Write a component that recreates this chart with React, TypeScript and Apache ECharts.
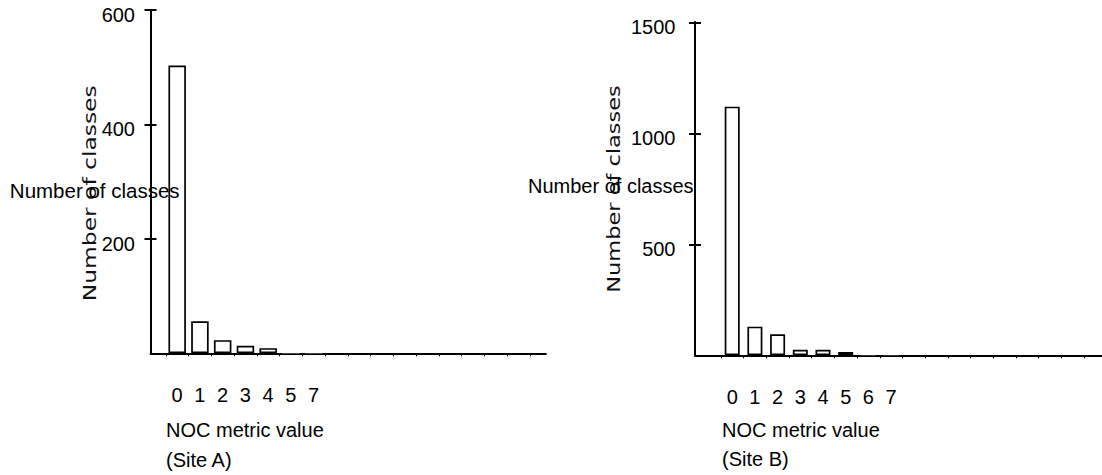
import React, { useEffect, useRef } from "react";
import * as echarts from "echarts";

// ---- data ----
const SITE_A_CATEGORIES = ["0", "1", "2", "3", "4", "5", "7", "", "", "", "", "", "", "", "", ""];
const SITE_A_COUNTS = [503, 56, 23, 13, 9, 1, 1, 0, 0, 0, 0, 0, 0, 0, 0, 0];
const SITE_A_Y_MAX = 600;
const SITE_A_Y_STEP = 200;

const SITE_B_CATEGORIES = ["0", "1", "2", "3", "4", "5", "6", "7", "", "", "", "", "", "", "", ""];
const SITE_B_COUNTS = [1120, 129, 95, 25, 25, 15, 1, 1, 0, 0, 0, 0, 0, 0, 0, 0];
const SITE_B_Y_MAX = 1500;
const SITE_B_Y_STEP = 500;

const Y_NAME = "Number of classes";
const X_NAME = "NOC metric value";
const SITE_A_LABEL = "(Site A)";
const SITE_B_LABEL = "(Site B)";

const SANS = "'Liberation Sans', Arial, Helvetica, sans-serif";
const INK = "#000";

function frameY(gridIndex: number, max: number, step: number, margin: number) {
  return [
    {
      gridIndex,
      type: "value",
      position: "left",
      min: 0,
      max,
      interval: step,
      axisLine: { show: true, lineStyle: { color: INK, width: 2 } },
      axisTick: { show: true, inside: false, length: 6, lineStyle: { color: INK, width: 2 } },
      axisLabel: {
        show: true,
        showMinLabel: false,
        formatter: (v: number) => (v === 0 ? "" : String(v)),
        color: INK,
        fontSize: 20,
        fontFamily: SANS,
        margin,
        verticalAlign: "top",
        lineHeight: 10,
      },
      splitLine: { show: false },
    },
    {
      gridIndex,
      type: "value",
      position: "left",
      offset: 0,
      min: 0,
      max,
      interval: step,
      axisLine: { show: true, lineStyle: { color: INK, width: 2 } },
      axisTick: { show: true, inside: true, length: 6, lineStyle: { color: INK, width: 2 } },
      axisLabel: { show: false },
      splitLine: { show: false },
    },
    {
      gridIndex: gridIndex + 1,
      type: "value",
      min: 0,
      max,
      interval: step,
      show: false,
    },
  ];
}

function frameX(gridIndex: number) {
  return {
    gridIndex,
    type: "value",
    min: 0,
    max: 1,
    axisLine: { show: true, lineStyle: { color: INK, width: 1.8 } },
    axisTick: { show: false },
    axisLabel: { show: false },
    splitLine: { show: false },
  };
}

function catX(gridIndex: number, data: string[]) {
  return {
    gridIndex,
    type: "category",
    data,
    boundaryGap: true,
    axisLine: { show: false },
    axisTick: { show: true, interval: 0, length: 3, lineStyle: { color: INK, width: 1 } },
    axisLabel: { interval: 0, color: INK, fontSize: 20, fontFamily: SANS, margin: 32 },
    splitLine: { show: false },
  };
}

// bars too short to show an outline are drawn without one
function barData(values: number[]) {
  return values.map((v) => (v < 2 ? { value: v, itemStyle: { borderWidth: 0 } } : v));
}

function txt(x: number, y: number, text: string, extra: any = {}, style: any = {}) {
  return {
    type: "text",
    x,
    y,
    z: 100,
    ...extra,
    style: {
      text,
      fontFamily: SANS,
      fontSize: 20,
      fill: INK,
      align: "left",
      verticalAlign: "middle",
      ...style,
    },
  };
}

export default function App() {
  const ref = useRef<HTMLDivElement>(null);

  useEffect(() => {
    if (!ref.current) return;
    const chart = echarts.init(ref.current, undefined, { renderer: "svg" });
    const rotatedStyle = {
      fontFamily: "'DejaVu Sans', sans-serif",
      fontSize: 18,
      fill: "#111",
      align: "center",
    };
    const option = {
      animation: false,
      backgroundColor: "#fff",
      grid: [
        { left: 150.5, top: 10, width: 395.5, height: 343.3 },
        { left: 165.8, top: 10, width: 364, height: 343.3 },
        { left: 695, top: 22.3, width: 407, height: 333 },
        { left: 720.85, top: 22.3, width: 363.2, height: 333 },
      ],
      xAxis: [frameX(0), catX(1, SITE_A_CATEGORIES), frameX(2), catX(3, SITE_B_CATEGORIES)],
      yAxis: [
        ...frameY(0, SITE_A_Y_MAX, SITE_A_Y_STEP, 15.5),
        ...frameY(2, SITE_B_Y_MAX, SITE_B_Y_STEP, 19.5),
      ],
      series: [
        {
          type: "bar",
          xAxisIndex: 1,
          yAxisIndex: 2,
          data: barData(SITE_A_COUNTS),
          barWidth: 17.5,
          silent: true,
          itemStyle: { color: "#fff", borderColor: INK, borderWidth: 1.7 },
        },
        {
          type: "bar",
          xAxisIndex: 3,
          yAxisIndex: 5,
          data: barData(SITE_B_COUNTS),
          barWidth: 15,
          silent: true,
          itemStyle: { color: "#fff", borderColor: INK, borderWidth: 1.7 },
        },
      ],
      graphic: [
        txt(89.7, 193.3, Y_NAME, { rotation: Math.PI / 2, scaleX: 1.3 }, rotatedStyle),
        txt(94.7, 190, Y_NAME, {}, { align: "center", fontSize: 20.5 }),
        txt(614, 189, Y_NAME, { rotation: Math.PI / 2, scaleX: 1.25 }, rotatedStyle),
        txt(610.8, 186, Y_NAME, {}, { align: "center" }),
        txt(166, 429.5, X_NAME),
        txt(166, 459.5, SITE_A_LABEL),
        txt(722, 430, X_NAME),
        txt(722, 459, SITE_B_LABEL),
      ],
    };
    chart.setOption(option as any);
    return () => {
      chart.dispose();
    };
  }, []);

  return (
    <div
      ref={ref}
      style={{ position: "absolute", left: 0, top: 0, width: 1102, height: 475, background: "#fff" }}
    />
  );
}
